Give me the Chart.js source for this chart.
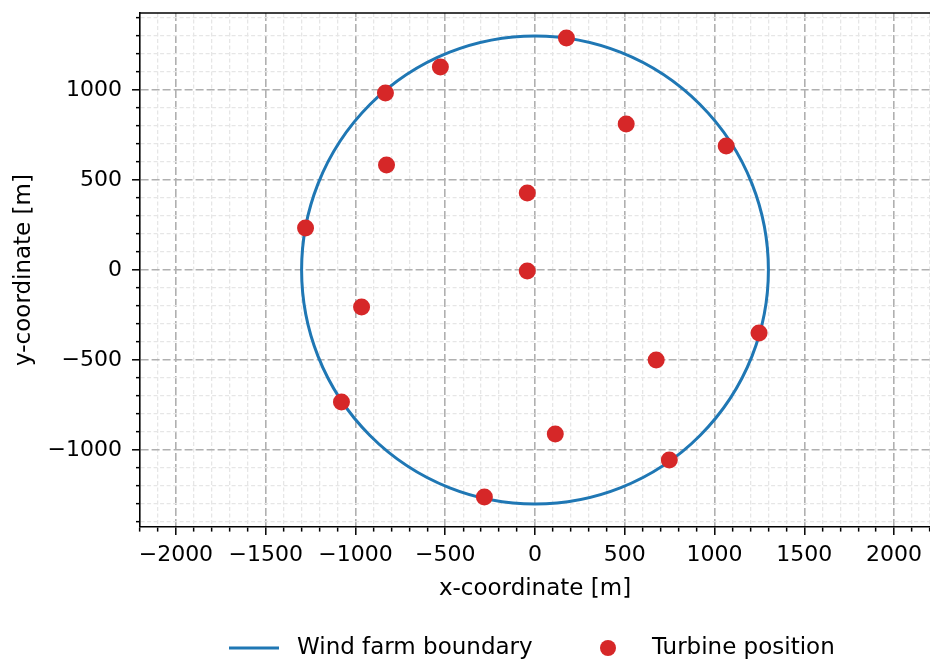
<!DOCTYPE html>
<html>
<head>
<meta charset="utf-8">
<script src="https://cdn.jsdelivr.net/npm/chart.js@4.4.1/dist/chart.umd.min.js"></script>
<style>
  html, body { margin: 0; padding: 0; background: #fff; }
</style>
</head>
<body>
<canvas id="layoutChart" width="930" height="664"></canvas>
<script>
// turbine positions [m]
var turbineX = [175, -527, -833, 508, 1065, -827, -43, -1278, -43, -966, 1248, 675, -1078, 113, 748, -282];
var turbineY = [1289, 1128, 983, 811, 689, 583, 428, 233, -6, -206, -350, -500, -733, -911, -1056, -1261];

// wind farm boundary: circle
var boundaryCenter = [0, 0];
var boundaryRadius = 1300;

// axes
var xLimits = [-2200, 2200];
var yLimits = [-1428, 1428];
var majorStep = 500;
var minorStep = 100;
var seriesLabels = ['Wind farm boundary', 'Turbine position'];

Chart.defaults.font.family = '"DejaVu Sans", sans-serif';
Chart.defaults.color = '#000';

function isMajor(ctx) {
    return ctx.tick && ctx.tick.value % majorStep === 0;
}
function tickLabel(value) {
    if (value % majorStep !== 0) return '';
    return value < 0 ? '\u2212' + Math.abs(value) : String(value);
}
function gridColor(ctx) { return isMajor(ctx) ? '#b0b0b0' : '#e6e6e6'; }
function gridWidth(ctx) { return isMajor(ctx) ? 1.6 : 1.3; }
function gridDash(ctx) { return isMajor(ctx) ? [8, 3] : [4, 2.5]; }

// circle drawn through the scales, under the turbines
var boundaryPlugin = {
    id: 'boundaryCircle',
    beforeDatasetsDraw: function (chart) {
        var xs = chart.scales.x, ys = chart.scales.y;
        var ds = chart.data.datasets[0];
        var cx = xs.getPixelForValue(boundaryCenter[0]);
        var cy = ys.getPixelForValue(boundaryCenter[1]);
        var rx = Math.abs(xs.getPixelForValue(boundaryCenter[0] + boundaryRadius) - cx);
        var ry = Math.abs(ys.getPixelForValue(boundaryCenter[1] + boundaryRadius) - cy);
        var ctx = chart.ctx;
        ctx.save();
        ctx.strokeStyle = ds.borderColor;
        ctx.lineWidth = ds.borderWidth;
        ctx.beginPath();
        ctx.ellipse(cx, cy, rx, ry, 0, 0, 2 * Math.PI);
        ctx.stroke();
        ctx.restore();
    }
};

// top spine + legend under the axes
var framePlugin = {
    id: 'frameAndLegend',
    afterDraw: function (chart) {
        var ctx = chart.ctx, a = chart.chartArea;
        var ds = chart.data.datasets;
        ctx.save();
        ctx.strokeStyle = '#000';
        ctx.lineWidth = 1.6;
        ctx.beginPath();
        ctx.moveTo(a.left, a.top);
        ctx.lineTo(a.right, a.top);
        ctx.stroke();

        var y = 648;
        ctx.font = '23px "DejaVu Sans"';
        ctx.textBaseline = 'middle';
        ctx.strokeStyle = ds[0].borderColor;
        ctx.lineWidth = 3;
        ctx.beginPath();
        ctx.moveTo(229, y);
        ctx.lineTo(279, y);
        ctx.stroke();
        ctx.fillStyle = '#000';
        ctx.fillText(ds[0].label, 297, y);
        ctx.fillStyle = ds[1].backgroundColor;
        ctx.beginPath();
        ctx.arc(608, y, 8, 0, 2 * Math.PI);
        ctx.fill();
        ctx.fillStyle = '#000';
        ctx.fillText(ds[1].label, 652, y);
        ctx.restore();
    }
};

var points = turbineX.map(function (x, i) { return { x: x, y: turbineY[i] }; });

new Chart(document.getElementById('layoutChart'), {
    type: 'scatter',
    data: {
        datasets: [{
            type: 'line',
            label: seriesLabels[0],
            data: [],
            borderColor: '#1f77b4',
            borderWidth: 3,
            pointRadius: 0
        }, {
            label: seriesLabels[1],
            data: points,
            backgroundColor: '#d62728',
            borderWidth: 0,
            pointRadius: 8.5,
            pointHoverRadius: 8.5
        }]
    },
    options: {
        responsive: false,
        animation: false,
        devicePixelRatio: 1,
        layout: { autoPadding: false, padding: { top: 13, right: 0, bottom: 61, left: 0 } },
        plugins: {
            legend: { display: false },
            tooltip: { enabled: false }
        },
        scales: {
            x: {
                type: 'linear',
                min: xLimits[0],
                max: xLimits[1],
                afterFit: function (s) { s.height = 76; s.paddingLeft = 0; s.paddingRight = 0; },
                ticks: {
                    stepSize: minorStep,
                    autoSkip: false,
                    maxRotation: 0,
                    maxTicksLimit: 1000,
                    padding: 7,
                    font: { size: 22 },
                    callback: tickLabel
                },
                grid: {
                    color: gridColor,
                    lineWidth: gridWidth,
                    tickLength: 8,
                    tickColor: '#000',
                    tickWidth: 1.5,
                    tickBorderDash: function (ctx) { return isMajor(ctx) ? [] : [4, 20]; }
                },
                border: { display: true, color: '#000', width: 1.6, dash: gridDash },
                title: {
                    display: true,
                    text: 'x-coordinate [m]',
                    font: { size: 23 },
                    padding: { top: 0, bottom: 0 }
                }
            },
            y: {
                type: 'linear',
                min: yLimits[0],
                max: yLimits[1],
                afterFit: function (s) { s.width = 140; s.paddingTop = 0; s.paddingBottom = 0; },
                ticks: {
                    stepSize: minorStep,
                    includeBounds: false,
                    autoSkip: false,
                    maxTicksLimit: 1000,
                    padding: 10,
                    font: { size: 22 },
                    callback: tickLabel
                },
                grid: {
                    color: gridColor,
                    lineWidth: gridWidth,
                    tickLength: 8,
                    tickColor: '#000',
                    tickWidth: 1.5,
                    tickBorderDash: function (ctx) { return isMajor(ctx) ? [] : [4, 4]; },
                    tickBorderDashOffset: function (ctx) { return isMajor(ctx) ? 0 : 4; }
                },
                border: { display: true, color: '#000', width: 1.6, dash: gridDash },
                title: {
                    display: true,
                    text: 'y-coordinate [m]',
                    font: { size: 23 },
                    padding: { top: 10, bottom: 0 }
                }
            }
        }
    },
    plugins: [boundaryPlugin, framePlugin]
});
</script>
</body>
</html>
